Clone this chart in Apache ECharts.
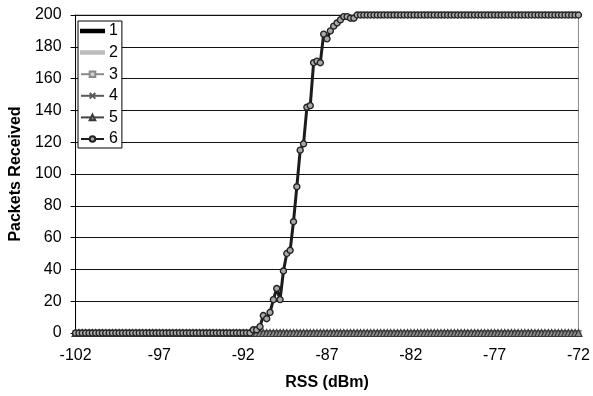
<!DOCTYPE html>
<html>
<head>
<meta charset="utf-8">
<script src="https://cdn.jsdelivr.net/npm/echarts@6/dist/echarts.min.js"></script>
<style>
  html, body { margin: 0; padding: 0; background: #fff; }
  #chart { width: 593px; height: 396px; }
</style>
</head>
<body>
<div id="chart"></div>
<script>
// Received signal strength sweep (dBm), 0.2 dB steps
const rss = [
  -102, -101.8, -101.6, -101.4, -101.2, -101, -100.8, -100.6, -100.4, -100.2,
  -100, -99.8, -99.6, -99.4, -99.2, -99, -98.8, -98.6, -98.4, -98.2,
  -98, -97.8, -97.6, -97.4, -97.2, -97, -96.8, -96.6, -96.4, -96.2,
  -96, -95.8, -95.6, -95.4, -95.2, -95, -94.8, -94.6, -94.4, -94.2,
  -94, -93.8, -93.6, -93.4, -93.2, -93, -92.8, -92.6, -92.4, -92.2,
  -92, -91.8, -91.6, -91.4, -91.2, -91, -90.8, -90.6, -90.4, -90.2,
  -90, -89.8, -89.6, -89.4, -89.2, -89, -88.8, -88.6, -88.4, -88.2,
  -88, -87.8, -87.6, -87.4, -87.2, -87, -86.8, -86.6, -86.4, -86.2,
  -86, -85.8, -85.6, -85.4, -85.2, -85, -84.8, -84.6, -84.4, -84.2,
  -84, -83.8, -83.6, -83.4, -83.2, -83, -82.8, -82.6, -82.4, -82.2,
  -82, -81.8, -81.6, -81.4, -81.2, -81, -80.8, -80.6, -80.4, -80.2,
  -80, -79.8, -79.6, -79.4, -79.2, -79, -78.8, -78.6, -78.4, -78.2,
  -78, -77.8, -77.6, -77.4, -77.2, -77, -76.8, -76.6, -76.4, -76.2,
  -76, -75.8, -75.6, -75.4, -75.2, -75, -74.8, -74.6, -74.4, -74.2,
  -74, -73.8, -73.6, -73.4, -73.2, -73, -72.8, -72.6, -72.4, -72.2,
  -72
];

// Nodes 1-5: nothing received across the whole sweep
const silentCounts = [
  0, 0, 0, 0, 0, 0, 0, 0, 0, 0,
  0, 0, 0, 0, 0, 0, 0, 0, 0, 0,
  0, 0, 0, 0, 0, 0, 0, 0, 0, 0,
  0, 0, 0, 0, 0, 0, 0, 0, 0, 0,
  0, 0, 0, 0, 0, 0, 0, 0, 0, 0,
  0, 0, 0, 0, 0, 0, 0, 0, 0, 0,
  0, 0, 0, 0, 0, 0, 0, 0, 0, 0,
  0, 0, 0, 0, 0, 0, 0, 0, 0, 0,
  0, 0, 0, 0, 0, 0, 0, 0, 0, 0,
  0, 0, 0, 0, 0, 0, 0, 0, 0, 0,
  0, 0, 0, 0, 0, 0, 0, 0, 0, 0,
  0, 0, 0, 0, 0, 0, 0, 0, 0, 0,
  0, 0, 0, 0, 0, 0, 0, 0, 0, 0,
  0, 0, 0, 0, 0, 0, 0, 0, 0, 0,
  0, 0, 0, 0, 0, 0, 0, 0, 0, 0,
  0
];

// Node 6: packets received out of 200
const node6Counts = [
  0, 0, 0, 0, 0, 0, 0, 0, 0, 0,
  0, 0, 0, 0, 0, 0, 0, 0, 0, 0,
  0, 0, 0, 0, 0, 0, 0, 0, 0, 0,
  0, 0, 0, 0, 0, 0, 0, 0, 0, 0,
  0, 0, 0, 0, 0, 0, 0, 0, 0, 0,
  0, 0, 0, 2, 2, 4, 11, 9, 13, 21,
  28, 21, 39, 50, 52, 70, 92, 115, 119, 142,
  143, 170, 171, 170, 188, 185, 190, 193, 195, 197,
  199, 199, 198, 198, 200, 200, 200, 200, 200, 200,
  200, 200, 200, 200, 200, 200, 200, 200, 200, 200,
  200, 200, 200, 200, 200, 200, 200, 200, 200, 200,
  200, 200, 200, 200, 200, 200, 200, 200, 200, 200,
  200, 200, 200, 200, 200, 200, 200, 200, 200, 200,
  200, 200, 200, 200, 200, 200, 200, 200, 200, 200,
  200, 200, 200, 200, 200, 200, 200, 200, 200, 200,
  200
];

const seriesNames = ['1', '2', '3', '4', '5', '6'];

const FONT = '"Liberation Sans", Arial, sans-serif';
const crossPath = 'path://M0,0L10,10M10,0L0,10';
const plainLineIcon = 'path://M0,0L23,0L23,2.5L0,2.5Z';

const styles = [
  { line: '#000000', width: 2.5, symbol: 'none', size: 0, fill: '#000', border: '#000', bw: 1 },
  { line: '#bdbdbd', width: 2.5, symbol: 'none', size: 0, fill: '#bdbdbd', border: '#bdbdbd', bw: 1 },
  { line: '#8a8a8a', width: 2.5, symbol: 'rect', size: 5, fill: '#d0d0d0', border: '#8a8a8a', bw: 1 },
  { line: '#5a5a5a', width: 2.5, symbol: crossPath, size: 6, fill: 'none', border: '#5a5a5a', bw: 1 },
  { line: '#444444', width: 2.5, symbol: 'triangle', size: 7, fill: '#8c8c8c', border: '#3a3a3a', bw: 1.2 },
  { line: '#1c1c1c', width: 3, symbol: 'circle', size: 6, fill: '#a8a8a8', border: '#222222', bw: 1.4 }
];

const valueSets = [silentCounts, silentCounts, silentCounts, silentCounts, silentCounts, node6Counts];

const series = seriesNames.map((name, i) => ({
  name: name,
  type: 'line',
  data: valueSets[i],
  symbol: styles[i].symbol,
  symbolSize: styles[i].size,
  showSymbol: styles[i].symbol !== 'none',
  showAllSymbol: true,
  lineStyle: { color: styles[i].line, width: styles[i].width },
  itemStyle: {
    color: styles[i].fill,
    borderColor: styles[i].border,
    borderWidth: styles[i].bw
  },
  z: 2 + i,
  animation: false
}));

const legendItems = seriesNames.map((name, i) =>
  styles[i].symbol === 'none'
    ? { name: name, icon: plainLineIcon, itemStyle: { color: styles[i].line } }
    : { name: name }
);

const chart = echarts.init(document.getElementById('chart'), null, { renderer: 'canvas' });

chart.setOption({
  animation: false,
  backgroundColor: '#ffffff',
  textStyle: { fontFamily: FONT },
  grid: {
    left: 71, right: 13, top: 15, bottom: 61,
    show: true,
    borderColor: '#8a8a8a',
    borderWidth: 1,
    backgroundColor: 'transparent'
  },
  legend: {
    data: legendItems,
    orient: 'vertical',
    left: 78,
    top: 21,
    itemWidth: 23,
    itemHeight: 7,
    itemGap: 5.6,
    padding: [2, 4, 1, 2],
    borderColor: '#000',
    borderWidth: 1,
    backgroundColor: '#fff',
    textStyle: { fontFamily: FONT, fontSize: 16, color: '#000', lineHeight: 16 }
  },
  xAxis: {
    type: 'category',
    data: rss,
    boundaryGap: false,
    name: 'RSS (dBm)',
    nameLocation: 'middle',
    nameGap: 42,
    nameTextStyle: { fontFamily: FONT, fontSize: 16, fontWeight: 'bold', color: '#000' },
    axisLine: { show: true, lineStyle: { color: '#8a8a8a', width: 1 } },
    axisTick: { show: true, interval: 24, length: 4, lineStyle: { color: '#444' } },
    axisLabel: {
      interval: 24,
      margin: 15,
      fontFamily: FONT,
      fontSize: 16,
      color: '#000',
      formatter: (v) => String(Math.round(Number(v)))
    },
    splitLine: { show: false }
  },
  yAxis: {
    type: 'value',
    min: 0,
    max: 200,
    interval: 20,
    name: 'Packets Received',
    nameLocation: 'middle',
    nameGap: 46,
    nameTextStyle: { fontFamily: FONT, fontSize: 16, fontWeight: 'bold', color: '#000' },
    axisLine: { show: true, lineStyle: { color: '#000', width: 1 } },
    axisTick: { show: true, length: 5, lineStyle: { color: '#000' } },
    axisLabel: { margin: 14, fontFamily: FONT, fontSize: 16, color: '#000' },
    splitLine: { show: true, lineStyle: { color: '#111', width: 1 } }
  },
  series: series
});
</script>
</body>
</html>
